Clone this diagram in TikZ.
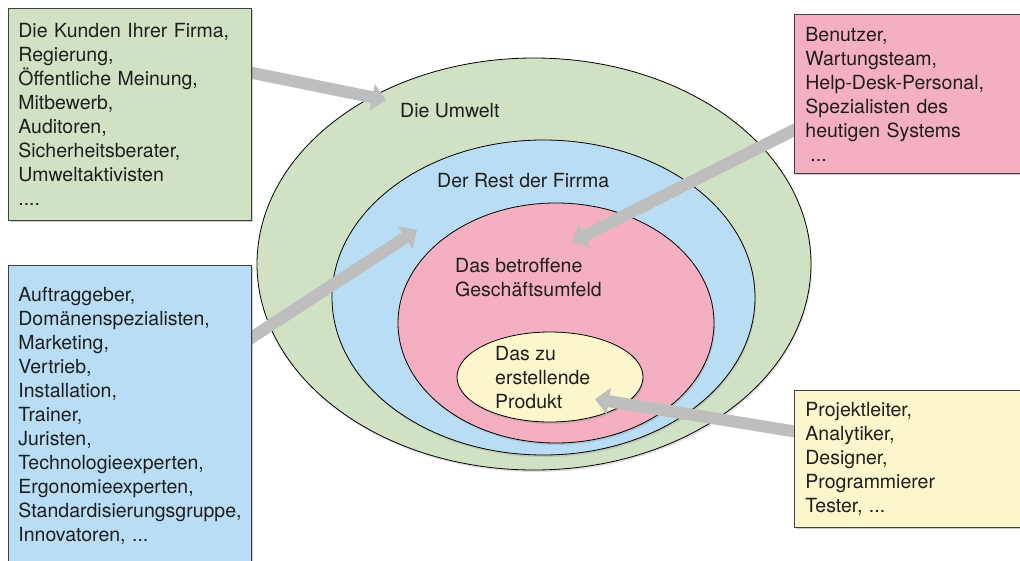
\documentclass[tikz,border=0pt]{standalone}
\usepackage{fontspec}
\setmainfont{TeX Gyre Heros}
\usetikzlibrary{shapes.geometric,arrows.meta,shadows,calc}
\definecolor{envgreen}{RGB}{208,226,195}
\definecolor{firmblue}{RGB}{185,221,244}
\definecolor{bizpink}{RGB}{244,176,193}
\definecolor{prodyellow}{RGB}{251,246,203}
\definecolor{arrowgray}{RGB}{190,190,190}
\definecolor{ink}{RGB}{30,30,30}
\pgfdeclarelayer{under}
\pgfsetlayers{under,main}
\hyphenpenalty=10000
\exhyphenpenalty=10000
\begin{document}
\begin{tikzpicture}[x=1pt,y=-1pt,
  font=\fontsize{19.5}{24}\selectfont, text=ink,
  zone/.style={ellipse, draw=black, line width=0.8pt, inner sep=0pt,
    drop shadow={shadow xshift=1pt, shadow yshift=-2pt, opacity=0.25}},
  zonelabel/.style={anchor=north west, inner sep=0pt, align=left},
  infobox/.style={rectangle, draw=black!75, line width=0.8pt, anchor=north west,
    align=left, inner xsep=10pt, inner ysep=0pt,
    drop shadow={shadow xshift=1.5pt, shadow yshift=-1.5pt, opacity=0.4}},
  bigarrow/.style={draw=arrowgray, line width=12pt,
    -{Triangle[length=14pt,width=26pt]}}]
\useasboundingbox (0,0) rectangle (1020,560);

% stakeholder boxes
\node[infobox, fill=envgreen, text width=223pt, minimum height=212pt] (gbox) at (8,8)
  {Die Kunden Ihrer Firma,\\Regierung,\\Öffentliche Meinung,\\Mitbewerb,\\Auditoren,\\Sicherheitsberater,\\Umweltaktivisten\\....};
\node[infobox, fill=firmblue, text width=223pt, minimum height=300pt] (bbox) at (8,265)
  {Auftraggeber,\\Domänenspezialisten,\\Marketing,\\Vertrieb,\\Installation,\\Trainer,\\Juristen,\\Technologieexperten,\\Ergonomieexperten,\\Standardisierungsgruppe,\\Innovatoren, ...};
\node[infobox, fill=bizpink, text width=205pt, inner xsep=11pt, minimum height=159pt] (pbox) at (794,14)
  {Benutzer,\\Wartungsteam,\\Help-Desk-Personal,\\Spezialisten des\\heutigen Systems\\\hspace*{5pt}...};
\node[infobox, fill=prodyellow, text width=205pt, inner xsep=11pt, minimum height=137pt] (ybox) at (794,390)
  {Projektleiter,\\Analytiker,\\Designer,\\Programmierer\\Tester, ...};

\begin{pgfonlayer}{under}
  % nested context zones
  \node[zone, fill=envgreen,   minimum width=554pt, minimum height=412pt] (umwelt)  at (534,264) {};
  \node[zone, fill=firmblue,   minimum width=423pt, minimum height=315pt] (firma)   at (543.5,297.5) {};
  \node[zone, fill=bizpink,    minimum width=316pt, minimum height=240pt] (umfeld)  at (556,323) {};
  \node[zone, fill=prodyellow, minimum width=186pt, minimum height=90pt]  (produkt) at (550,377) {};

  \node[zonelabel] (lumwelt)  at (400,103) {Die Umwelt};
  \node[zonelabel] (lfirma)   at (437,173) {Der Rest der Firrma};
  \node[zonelabel] (lumfeld)  at (455,258) {Das betroffene\\Geschäftsumfeld};
  \node[zonelabel] (lprodukt) at (495,346) {Das zu\\erstellende\\Produkt};

  % arrow targets inside the zones
  \coordinate (tumwelt)  at (386,100);
  \coordinate (tfirma)   at (417,230);
  \coordinate (tumfeld)  at (572,242);
  \coordinate (tprodukt) at (595,399);

  \draw[bigarrow] ($(gbox.north east)+(-4,64)$)  -- (tumwelt);
  \draw[bigarrow] ($(bbox.north east)+(-4,75)$)  -- (tfirma);
  \draw[bigarrow] ($(pbox.north west)+(4,114)$)  -- (tumfeld);
  \draw[bigarrow] ($(ybox.north west)+(4,42)$)   -- (tprodukt);
\end{pgfonlayer}
\end{tikzpicture}
\end{document}
